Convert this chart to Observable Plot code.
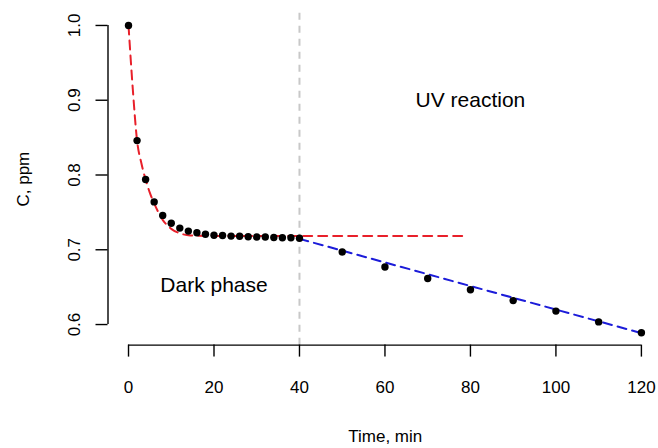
<!DOCTYPE html>
<html>
<head>
<meta charset="utf-8">
<script src="https://cdn.jsdelivr.net/npm/d3@7"></script>
<script src="https://cdn.jsdelivr.net/npm/@observablehq/plot@0.6"></script>
<style>
  html, body { margin: 0; padding: 0; background: #fff; }
  #chart svg { display: block; font-family: "Liberation Sans", Arial, Helvetica, sans-serif; }
</style>
</head>
<body>
<div id="chart"></div>
<script>
// Measured points, dark phase (every 2 min)
const darkTime = [0, 2, 4, 6, 8, 10, 12, 14, 16, 18, 20, 22, 24, 26, 28, 30, 32, 34, 36, 38, 40];
const darkConc = [1.000, 0.846, 0.794, 0.764, 0.746, 0.7355, 0.729, 0.725, 0.7227, 0.7208, 0.7195,
                  0.719, 0.7183, 0.718, 0.7175, 0.717, 0.717, 0.7165, 0.716, 0.716, 0.7155];
// Measured points, UV phase
const uvTime = [50, 60, 70, 80, 90, 100, 110, 120];
const uvConc = [0.697, 0.677, 0.6615, 0.6465, 0.632, 0.618, 0.6035, 0.589];
// Dark-phase fitted curve
const darkFitTime = [0, 1, 2, 3, 4, 5, 6, 7, 8, 9, 10, 12, 14, 16, 20, 30, 40, 79];
const darkFitConc = [1.0, 0.915, 0.846, 0.816, 0.794, 0.776, 0.762, 0.750, 0.740, 0.733, 0.728,
                     0.722, 0.7195, 0.7188, 0.7185, 0.7185, 0.7185, 0.7185];
// UV-phase linear fit
const uvFitTime = [40, 120];
const uvFitConc = [0.7146, 0.5885];
// Phase boundary
const boundary = [40];
// Axes
const xTicks = [0, 20, 40, 60, 80, 100, 120];
const yTicks = [0.6, 0.7, 0.8, 0.9, 1.0];
const xDomain = [-4.8, 124];
const yDomain = [0.5725, 1.0164];
// Annotations
const notes = [
  {t: 20, c: 0.652, label: "Dark phase"},
  {t: 80, c: 0.900, label: "UV reaction"}
];

const pts = darkTime.map((t, i) => ({t, c: darkConc[i]}))
  .concat(uvTime.map((t, i) => ({t, c: uvConc[i]})));
const darkFit = darkFitTime.map((t, i) => ({t, c: darkFitConc[i]}));
const uvFit = uvFitTime.map((t, i) => ({t, c: uvFitConc[i]}));

const chart = Plot.plot({
  width: 658,
  height: 448,
  marginLeft: 107.5,
  marginRight: 0,
  marginTop: 12.7,
  marginBottom: 103.4,
  style: {fontFamily: '"Liberation Sans", Arial, Helvetica, sans-serif', background: "#fff"},
  x: {domain: xDomain},
  y: {domain: yDomain},
  marks: [
    Plot.ruleX(boundary, {stroke: "#c8c8c8", strokeWidth: 2, strokeDasharray: "7,6"}),
    Plot.line(darkFit, {x: "t", y: "c", stroke: "#e8202a", strokeWidth: 2, strokeDasharray: "9,6", curve: "monotone-x"}),
    Plot.line(uvFit, {x: "t", y: "c", stroke: "#1c1cd9", strokeWidth: 2, strokeDasharray: "9,6"}),
    Plot.dot(pts, {x: "t", y: "c", r: 3.7, fill: "#000", stroke: "none"}),
    // axis lines spanning first to last tick (R style)
    Plot.ruleY([yDomain[0]], {x1: xTicks[0], x2: xTicks[xTicks.length - 1], stroke: "#000", strokeWidth: 1.4}),
    Plot.ruleX([xDomain[0]], {y1: yTicks[0], y2: yTicks[yTicks.length - 1], stroke: "#000", strokeWidth: 1.4}),
    Plot.axisX({ticks: xTicks, tickSize: 12, tickPadding: 23.5, fontSize: 17, label: null,
                stroke: "#000", strokeWidth: 1.4, fill: "#000", tickFormat: d => String(d)}),
    Plot.axisY({ticks: yTicks, tickSize: 12, label: null, stroke: "#000", strokeWidth: 1.4,
                tickFormat: () => ""}),
    Plot.text(yTicks, {x: xDomain[0], y: d => d, text: d => d3.format(".1f")(d), rotate: -90,
                       dx: -33.5, fontSize: 17, fill: "#000", textAnchor: "middle", lineAnchor: "middle"}),
    Plot.text(["Time, min"], {frameAnchor: "bottom", dy: 91.4, dx: 2, fontSize: 17, fill: "#000",
                              lineAnchor: "middle"}),
    Plot.text(["C, ppm"], {frameAnchor: "left", dx: -84.5, rotate: -90, fontSize: 17, fill: "#000",
                           lineAnchor: "middle", textAnchor: "middle"}),
    Plot.text(notes, {x: "t", y: "c", text: "label", fontSize: 21, fill: "#000", lineAnchor: "middle"})
  ]
});
document.getElementById("chart").appendChild(chart);
</script>
</body>
</html>
